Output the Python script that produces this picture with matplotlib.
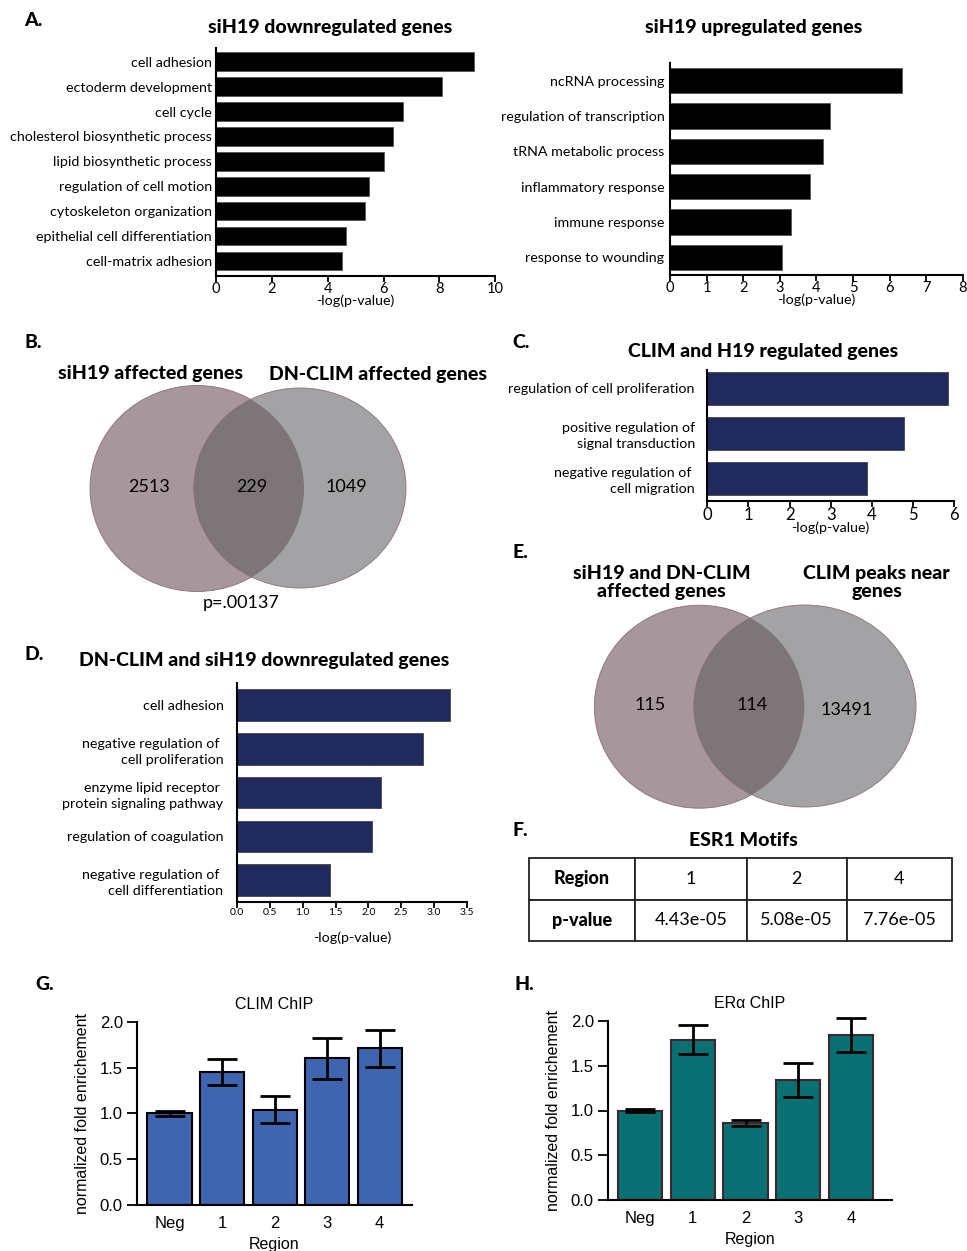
import matplotlib
matplotlib.use("Agg")
import matplotlib.pyplot as plt
from matplotlib.patches import Ellipse
import numpy as np

W, H = 967, 1251
SANS = "Lato"
HELV = "Liberation Sans"
NAVY = "#202a5c"
BLUE = "#3f65b0"
TEAL = "#087073"

# ---- data ----
down_terms = ["cell adhesion", "ectoderm development", "cell cycle",
              "cholesterol biosynthetic process", "lipid biosynthetic process",
              "regulation of cell motion", "cytoskeleton organization",
              "epithelial cell differentiation", "cell-matrix adhesion"]
down_vals = [9.24, 8.08, 6.71, 6.33, 6.02, 5.48, 5.32, 4.67, 4.50]

up_terms = ["ncRNA processing", "regulation of transcription", "tRNA metabolic process",
            "inflammatory response", "immune response", "response to wounding"]
up_vals = [6.33, 4.37, 4.19, 3.83, 3.31, 3.06]

clim_h19_terms = ["regulation of cell proliferation",
                  "positive regulation of\nsignal transduction",
                  "negative regulation of \ncell migration"]
clim_h19_vals = [5.85, 4.79, 3.88]

dn_terms = ["cell adhesion", "negative regulation of \ncell proliferation",
            "enzyme lipid receptor \nprotein signaling pathway",
            "regulation of coagulation",
            "negative regulation of \ncell differentiation"]
dn_vals = [3.24, 2.83, 2.20, 2.06, 1.42]

venn_b_sets = ["siH19 affected genes", "DN-CLIM affected genes"]
venn_b_counts = [2513, 229, 1049]
venn_b_p = "p=.00137"

venn_e_sets = ["siH19 and DN-CLIM\naffected genes", "CLIM peaks near\ngenes"]
venn_e_counts = [115, 114, 13491]

motif_regions = ["1", "2", "4"]
motif_pvals = ["4.43e-05", "5.08e-05", "7.76e-05"]

chip_regions = ["Neg", "1", "2", "3", "4"]
clim_chip = [1.00, 1.45, 1.04, 1.60, 1.71]
clim_err = [0.025, 0.145, 0.15, 0.22, 0.20]
era_chip = [1.00, 1.79, 0.86, 1.34, 1.84]
era_err = [0.02, 0.16, 0.035, 0.19, 0.19]

LAB = 10.3    # GO term labels
TITLE = 14
LETTER = 14
HEAVY = 900

fig = plt.figure(figsize=(W / 100, H / 100), dpi=100)


def px_axes(left, top, right, bottom, **kw):
    return fig.add_axes([left / W, 1 - bottom / H, (right - left) / W, (bottom - top) / H], **kw)


def px_text(x, y, s, **kw):
    kw.setdefault("family", SANS)
    return fig.text(x / W, 1 - y / H, s, **kw)


def go_bars(ax, terms, vals, color, xmax, ticks, ylim, label_pad, tick_size,
            edge="#555555", height=0.74):
    y = np.arange(len(terms))
    ax.barh(y, vals, height=height, color=color, edgecolor=edge, linewidth=0.6)
    ax.set_ylim(*ylim)
    ax.set_xlim(0, xmax)
    ax.set_yticks(y)
    ax.set_yticklabels(terms, family=SANS, fontsize=LAB, ha="right", ma="right",
                       linespacing=1.4)
    ax.tick_params(axis="y", length=0, pad=label_pad)
    ax.set_xticks(ticks)
    ax.tick_params(axis="x", length=4, width=1.3, pad=0.5, labelsize=tick_size)
    for lbl in ax.get_xticklabels():
        lbl.set_family(SANS)
    for s in ("top", "right"):
        ax.spines[s].set_visible(False)
    for s in ("left", "bottom"):
        ax.spines[s].set_linewidth(1.5)


# ---- A: siH19 down / up ----
ax = px_axes(216, 48, 495.3, 276)
go_bars(ax, down_terms, down_vals, "black", 10, range(0, 11, 2), (8.6, -0.55), 3, 10.5)
ax.set_xlabel("-log(p-value)", family=SANS, fontsize=LAB, labelpad=-1)
px_text(330, 27, "siH19 downregulated genes", fontsize=TITLE, weight=HEAVY, ha="center", va="center")
px_text(24, 21, "A.", fontsize=LETTER, weight=HEAVY, va="center")

ax = px_axes(670, 63, 962.7, 275)
go_bars(ax, up_terms, up_vals, "black", 8, range(0, 9), (5.5, -0.5), 4, 10.5, height=0.72)
ax.set_xlabel("-log(p-value)", family=SANS, fontsize=LAB, labelpad=-1)
px_text(754, 27, "siH19 upregulated genes", fontsize=TITLE, weight=HEAVY, ha="center", va="center")

# ---- B: Venn siH19 vs DN-CLIM ----
ax = px_axes(60, 380, 420, 600)
ax.set_xlim(60, 420)
ax.set_ylim(600, 380)
ax.axis("off")
left = Ellipse((197, 488.5), 214, 206, facecolor="#a7979c", edgecolor="#8b6f76", lw=0.6)
right = Ellipse((300, 488), 212, 200, facecolor="#a3a3a5", edgecolor="#8b6f76", lw=0.6)
ax.add_patch(left)
ax.add_patch(right)
lens = Ellipse((300, 488), 212, 200, facecolor="#7d7578", edgecolor="#8b6f76", lw=0.6)
ax.add_patch(lens)
lens.set_clip_path(left)
for x, n in zip([149, 251.5, 346.5], venn_b_counts):
    ax.text(x, 487, str(n), family=SANS, fontsize=13, ha="center", va="center")
px_text(151, 373, venn_b_sets[0], fontsize=TITLE, weight=HEAVY, ha="center", va="center")
px_text(378, 374, venn_b_sets[1], fontsize=TITLE, weight=HEAVY, ha="center", va="center")
px_text(241.5, 603, venn_b_p, fontsize=13, ha="center", va="center")
px_text(24, 343, "B.", fontsize=LETTER, weight=HEAVY, va="center")

# ---- C: CLIM and H19 regulated genes ----
ax = px_axes(707.3, 370, 954, 501)
go_bars(ax, clim_h19_terms, clim_h19_vals, NAVY, 6, range(0, 7), (2.5, -0.41), 9, 12,
        edge="#444444", height=0.72)
ax.set_xlabel("-log(p-value)", family=SANS, fontsize=LAB, labelpad=-1)
px_text(763, 351, "CLIM and H19 regulated genes", fontsize=TITLE, weight=HEAVY, ha="center", va="center")
px_text(512, 343, "C.", fontsize=LETTER, weight=HEAVY, va="center")

# ---- D: DN-CLIM and siH19 downregulated genes ----
ax = px_axes(237.3, 683.3, 466.7, 902)
d_ticks = np.arange(0, 3.6, 0.5)
go_bars(ax, dn_terms, dn_vals, NAVY, 3.5, d_ticks, (4.5, -0.5), 10, 7.5,
        edge="#444444", height=0.72)
ax.set_xticklabels([f"{t:.1f}" for t in d_ticks], family=SANS, fontsize=7.5)
ax.set_xlabel("-log(p-value)", family=SANS, fontsize=LAB, labelpad=10)
px_text(264, 660, "DN-CLIM and siH19 downregulated genes", fontsize=TITLE, weight=HEAVY,
        ha="center", va="center")
px_text(24, 655, "D.", fontsize=LETTER, weight=HEAVY, va="center")

# ---- E: Venn siH19/DN-CLIM vs CLIM peaks ----
ax = px_axes(580, 600, 930, 815)
ax.set_xlim(580, 930)
ax.set_ylim(815, 600)
ax.axis("off")
left = Ellipse((699.3, 706.7), 210, 203, facecolor="#a7979c", edgecolor="#8b6f76", lw=0.6)
right = Ellipse((805, 706), 222, 202, facecolor="#a3a3a5", edgecolor="#8b6f76", lw=0.6)
ax.add_patch(left)
ax.add_patch(right)
lens = Ellipse((805, 706), 222, 202, facecolor="#7d7578", edgecolor="#8b6f76", lw=0.6)
ax.add_patch(lens)
lens.set_clip_path(left)
for x, y, n in zip([650, 751.7, 846.7], [705, 705, 710], venn_e_counts):
    ax.text(x, y, str(n), family=SANS, fontsize=13, ha="center", va="center")
px_text(661.7, 582.5, venn_e_sets[0], fontsize=TITLE, weight=HEAVY, ha="center", va="center",
        linespacing=1.12)
px_text(876.7, 582.5, venn_e_sets[1], fontsize=TITLE, weight=HEAVY, ha="center", va="center",
        linespacing=1.12)
px_text(513, 553, "E.", fontsize=LETTER, weight=HEAVY, va="center")

# ---- F: ESR1 motif table ----
ax = px_axes(529.3, 858.3, 951.7, 941)
ax.axis("off")
cells = [["Region"] + motif_regions, ["p-value"] + motif_pvals]
widths = np.array([105.7, 111.7, 100, 105])
tbl = ax.table(cellText=cells, cellLoc="center", colWidths=list(widths / widths.sum()),
               bbox=[0, 0, 1, 1])
tbl.auto_set_font_size(False)
for (r, c), cell in tbl.get_celld().items():
    cell.set_linewidth(1.3)
    cell.set_edgecolor("#222222")
    txt = cell.get_text()
    txt.set_family(SANS)
    txt.set_fontsize(13)
    if c == 0:
        txt.set_fontweight(HEAVY)
px_text(743, 840, "ESR1 Motifs", fontsize=TITLE, weight=HEAVY, ha="center", va="center")
px_text(513, 830, "F.", fontsize=LETTER, weight=HEAVY, va="center")


# ---- G / H: ChIP bar charts ----
def chip_bars(ax, vals, errs, color, edge, title, xlim):
    x = np.arange(len(chip_regions))
    ax.bar(x, vals, width=0.84, color=color, edgecolor=edge, linewidth=1.5, zorder=2)
    eb = ax.errorbar(x, vals, yerr=errs, fmt="none", ecolor="black", elinewidth=2,
                     capsize=10.5, capthick=2, zorder=3)
    for part in eb.get_children():
        part.set_clip_on(False)
    ax.set_xlim(*xlim)
    ax.set_ylim(0, 2.0)
    yt = np.arange(0, 2.01, 0.5)
    ax.set_yticks(yt)
    ax.set_yticklabels([f"{t:.1f}" for t in yt], family=HELV, fontsize=12)
    ax.set_xticks(x)
    ax.set_xticklabels(chip_regions, family=HELV, fontsize=12)
    ax.tick_params(axis="x", length=0, pad=8)
    ax.tick_params(axis="y", length=7, width=1.3, pad=3)
    for s in ("top", "right"):
        ax.spines[s].set_visible(False)
    for s in ("left", "bottom"):
        ax.spines[s].set_linewidth(1.5)
    ax.set_ylabel("normalized fold enrichement", family=HELV, fontsize=11.5, labelpad=7)
    ax.set_xlabel("Region", family=HELV, fontsize=11.5, labelpad=4)
    ax.set_title(title, family=HELV, fontsize=11.5, pad=9)


ax = px_axes(136.7, 1021.7, 412.3, 1205)
chip_bars(ax, clim_chip, clim_err, BLUE, "black", "CLIM ChIP", (-0.625, 4.62))
px_text(35, 985, "G.", fontsize=LETTER, weight=HEAVY, va="center")

ax = px_axes(607.7, 1021, 892.3, 1200)
chip_bars(ax, era_chip, era_err, TEAL, "#3a2a30", "ERα ChIP", (-0.61, 4.78))
px_text(515, 985, "H.", fontsize=LETTER, weight=HEAVY, va="center")

fig.savefig("out.png", dpi=100)
